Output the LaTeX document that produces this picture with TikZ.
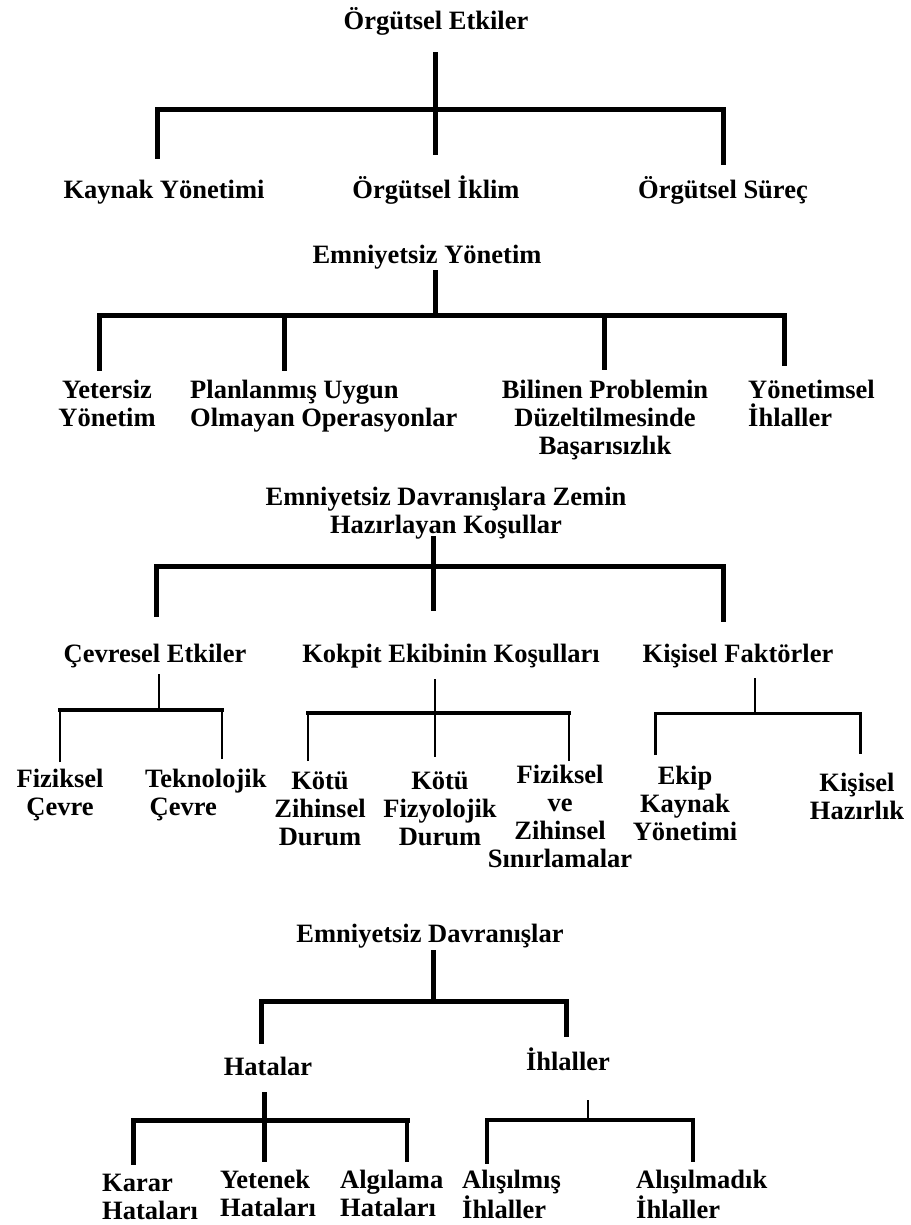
\documentclass[tikz,border=0pt]{standalone}
\usepackage{fontspec}
\setmainfont{Liberation Serif}
\begin{document}
\begin{tikzpicture}[x=1pt,y=-1pt,
  lbl/.style={inner sep=0pt,font=\fontsize{26.5}{28}\selectfont\bfseries,align=center,anchor=base},
  lbll/.style={lbl,align=left,anchor=base west},
  thk/.style={line width=5pt,line join=miter,line cap=rect},
  mid/.style={line width=3.5pt,line join=miter,line cap=rect},
  thn/.style={line width=1.5pt}]
\useasboundingbox[fill=white] (0,0) rectangle (910,1225);
% (anchor=base of a multi-line node is the baseline of its last line)

% ---------- Section 1 ----------
\node[lbl] (t1) at (436,30) {Örgütsel Etkiler};
\node[lbl] (k1) at (164,198) {Kaynak Yönetimi};
\node[lbl] (k2) at (436,198) {Örgütsel İklim};
\node[lbl] (k3) at (723,198) {Örgütsel Süreç};
\coordinate (t1s) at (435,55);
\coordinate (k1n) at (157,157);
\coordinate (k2n) at (435,153);
\coordinate (k3n) at (723,163);
\coordinate (b1) at (435,110);
\draw[thk] (t1s) -- (k2n);
\draw[thk] (k1n) -- (k1n |- b1) -- (k3n |- b1) -- (k3n);

% ---------- Section 2 ----------
\node[lbl] (t2) at (427,263) {Emniyetsiz Yönetim};
\node[lbl] (m1) at (107,426) {Yetersiz\\Yönetim};
\node[lbll] (m2) at (190,426) {Planlanmış Uygun\\Olmayan Operasyonlar};
\node[lbl] (m3) at (605,454) {Bilinen Problemin\\Düzeltilmesinde\\Başarısızlık};
\node[lbll] (m4) at (748,426) {Yönetimsel\\İhlaller};
\coordinate (t2s) at (435,272);
\coordinate (b2) at (435,315);
\coordinate (m1n) at (99,368);
\coordinate (m2n) at (284,368);
\coordinate (m3n) at (604,367);
\coordinate (m4n) at (784,363);
\draw[thk] (t2s) -- (b2);
\draw[thk] (m1n) -- (m1n |- b2) -- (m4n |- b2) -- (m4n);
\draw[thk] (m2n) -- (m2n |- b2);
\draw[thk] (m3n) -- (m3n |- b2);

% ---------- Section 3 ----------
\node[lbl] (t3) at (446,533) {Emniyetsiz Davranışlara Zemin\\Hazırlayan Koşullar};
\node[lbl] (c1) at (155,662) {Çevresel Etkiler};
\node[lbl] (c2) at (451,662) {Kokpit Ekibinin Koşulları};
\node[lbl] (c3) at (738,662) {Kişisel Faktörler};
\coordinate (t3s) at (433,538);
\coordinate (b3) at (433,566);
\coordinate (c1n) at (156,614);
\coordinate (c2n) at (433,608);
\coordinate (c3n) at (723,619);
\draw[thk] (t3s) -- (c2n);
\draw[thk] (c1n) -- (c1n |- b3) -- (c3n |- b3) -- (c3n);

% Cevresel Etkiler subtree
\node[lbl] (d1) at (60,815) {Fiziksel\\Çevre};
\node[lbll] (d2) at (145,815) {Teknolojik\\ \,Çevre};
\coordinate (c1s) at (159,674);
\coordinate (bc1) at (159,710);
\coordinate (d1n) at (60,762);
\coordinate (d2n) at (222,759);
\draw[thn] (c1s) -- (bc1);
\draw[mid] (d1n |- bc1) -- (d2n |- bc1);
\draw[thn] (d1n) -- (d1n |- bc1);
\draw[thn] (d2n) -- (d2n |- bc1);

% Kokpit subtree
\node[lbl] (d3) at (320,845) {Kötü\\Zihinsel\\Durum};
\node[lbl] (d4) at (440,845) {Kötü\\Fizyolojik\\Durum};
\node[lbl] (d5) at (560,867) {Fiziksel\\ve\\Zihinsel\\Sınırlamalar};
\coordinate (c2s) at (435,679);
\coordinate (bc2) at (435,713);
\coordinate (d3n) at (308,761);
\coordinate (d4n) at (435,757);
\coordinate (d5n) at (569,761);
\draw[thn] (c2s) -- (d4n);
\draw[mid] (d3n |- bc2) -- (d5n |- bc2);
\draw[line width=2.5pt] (d3n) -- (d3n |- bc2);
\draw[thn] (d5n) -- (d5n |- bc2);

% Kisisel Faktorler subtree
\node[lbl] (d6) at (685,840) {Ekip\\Kaynak\\Yönetimi};
\node[lbl] (d7) at (857,819) {Kişisel\\Hazırlık};
\coordinate (c3s) at (755,678);
\coordinate (bc3) at (755,713);
\coordinate (d6n) at (655,755);
\coordinate (d7n) at (860,754);
\draw[thn] (c3s) -- (bc3);
\draw[line width=3pt,line join=miter] (d6n) -- (d6n |- bc3) -- (d7n |- bc3) -- (d7n);

% ---------- Section 4 ----------
\node[lbl] (t4) at (430,942) {Emniyetsiz Davranışlar};
\node[lbl] (h1) at (268,1075) {Hatalar};
\node[lbl] (h2) at (568,1070) {İhlaller};
\coordinate (t4s) at (433,952);
\coordinate (b4) at (433,1001);
\coordinate (h1n) at (261,1041);
\coordinate (h2n) at (566,1034);
\draw[thk] (t4s) -- (b4);
\draw[thk] (h1n) -- (h1n |- b4) -- (h2n |- b4) -- (h2n);

% Hatalar subtree
\node[lbll] (e1) at (102,1219) {Karar\\Hataları};
\node[lbll] (e2) at (220,1216) {Yetenek\\Hataları};
\node[lbll] (e3) at (340,1216) {Algılama\\Hataları};
\coordinate (h1s) at (264,1094);
\coordinate (bh1) at (264,1120);
\coordinate (e1n) at (133,1162);
\coordinate (e2n) at (264,1159);
\coordinate (e3n) at (407,1160);
\draw[thk] (h1s) -- (e2n);
\draw[thk] (e1n) -- (e1n |- bh1) -- (e3n |- bh1);
\draw[mid] (e3n |- bh1) -- (e3n);

% Ihlaller subtree
\node[lbll] (e4) at (462,1218) {Alışılmış\\İhlaller};
\node[lbll] (e5) at (636,1218) {Alışılmadık\\İhlaller};
\coordinate (h2s) at (588,1100);
\coordinate (bh2) at (588,1120);
\coordinate (e4n) at (487,1162);
\coordinate (e5n) at (693,1160);
\draw[thn] (h2s) -- (bh2);
\draw[mid] (e4n) -- (e4n |- bh2) -- (e5n |- bh2) -- (e5n);
\end{tikzpicture}
\end{document}
